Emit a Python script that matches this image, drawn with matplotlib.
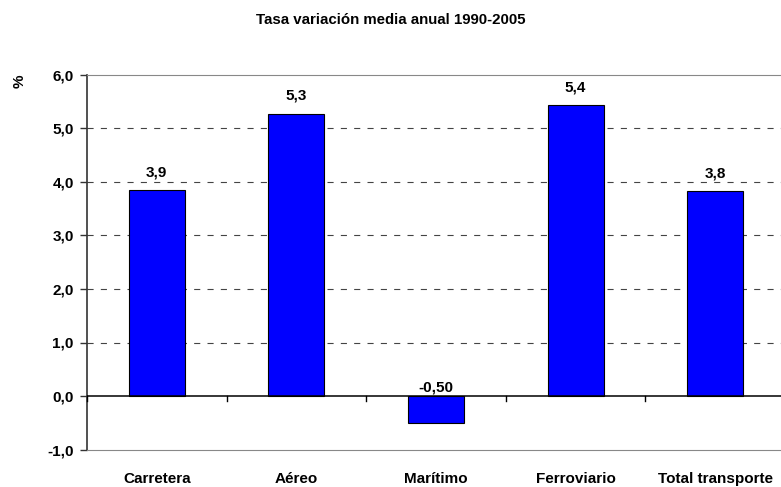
import matplotlib
matplotlib.use('Agg')
import matplotlib.pyplot as plt

# Datos
categorias = ['Carretera', 'Aéreo', 'Marítimo', 'Ferroviario', 'Total transporte']
valores = [3.85, 5.28, -0.50, 5.43, 3.83]
etiquetas = ['3,9', '5,3', '-0,50', '5,4', '3,8']
yticks = [-1.0, 0.0, 1.0, 2.0, 3.0, 4.0, 5.0, 6.0]
ytick_labels = ['-1,0', '0,0', '1,0', '2,0', '3,0', '4,0', '5,0', '6,0']
titulo = 'Tasa variación media anual 1990-2005'

plt.rcParams['font.family'] = ['Liberation Sans', 'DejaVu Sans']
plt.rcParams['font.weight'] = 'bold'
FS = 11

W, H = 781, 487
fig = plt.figure(figsize=(W / 100, H / 100), dpi=100)
# area de trazado (el borde derecho queda fuera de la imagen, como en el original)
ax = fig.add_axes([87 / W, 37.5 / H, (785 - 87) / W, 374.5 / H])

x = list(range(len(categorias)))
ax.bar(x, valores, width=0.4, color='#0000FF', edgecolor='black', linewidth=0.8, zorder=3)

ax.set_xlim(-0.5, len(categorias) - 0.5)
ax.set_ylim(yticks[0], yticks[-1])

# lineas de guia discontinuas
for t in yticks:
    if yticks[0] < t < yticks[-1] and t != 0:
        ax.axhline(t, color='#444444', lw=0.8, linestyle=(0, (5.5, 6.5)), zorder=1)

# eje de categorias en cero
ax.axhline(0, color='black', lw=1.1, zorder=4)
for b in range(len(categorias) + 1):
    ax.plot([b - 0.5, b - 0.5], [0, -0.09], color='black', lw=1.0, zorder=4, clip_on=False)

for xi, v, lab in zip(x, valores, etiquetas):
    off = 10 if v >= 0 else 3
    ax.annotate(lab, (xi, max(v, 0)), xytext=(0, off), textcoords='offset points',
                ha='center', va='baseline', fontsize=FS, fontweight='bold')

ax.set_yticks(yticks)
ax.set_yticklabels(ytick_labels, fontsize=FS, fontweight='bold')
ax.set_xticks(x)
ax.set_xticklabels(categorias, fontsize=FS, fontweight='bold')
ax.tick_params(axis='x', length=0, pad=16)
ax.tick_params(axis='y', length=5, width=1, color='#333333', pad=4.5)

ax.spines['left'].set_color('#333333')
ax.spines['left'].set_linewidth(1.2)
ax.spines['top'].set_color('#888888')
ax.spines['bottom'].set_color('#888888')
ax.spines['right'].set_visible(False)

fig.text(0.5, 1 - 20 / H, titulo, ha='center', va='center', fontsize=10.8, fontweight='bold')
fig.text(20 / W, 1 - 81 / H, '%', rotation=90, ha='center', va='center', fontsize=FS, fontweight='bold')

fig.savefig('out.png', dpi=100)
